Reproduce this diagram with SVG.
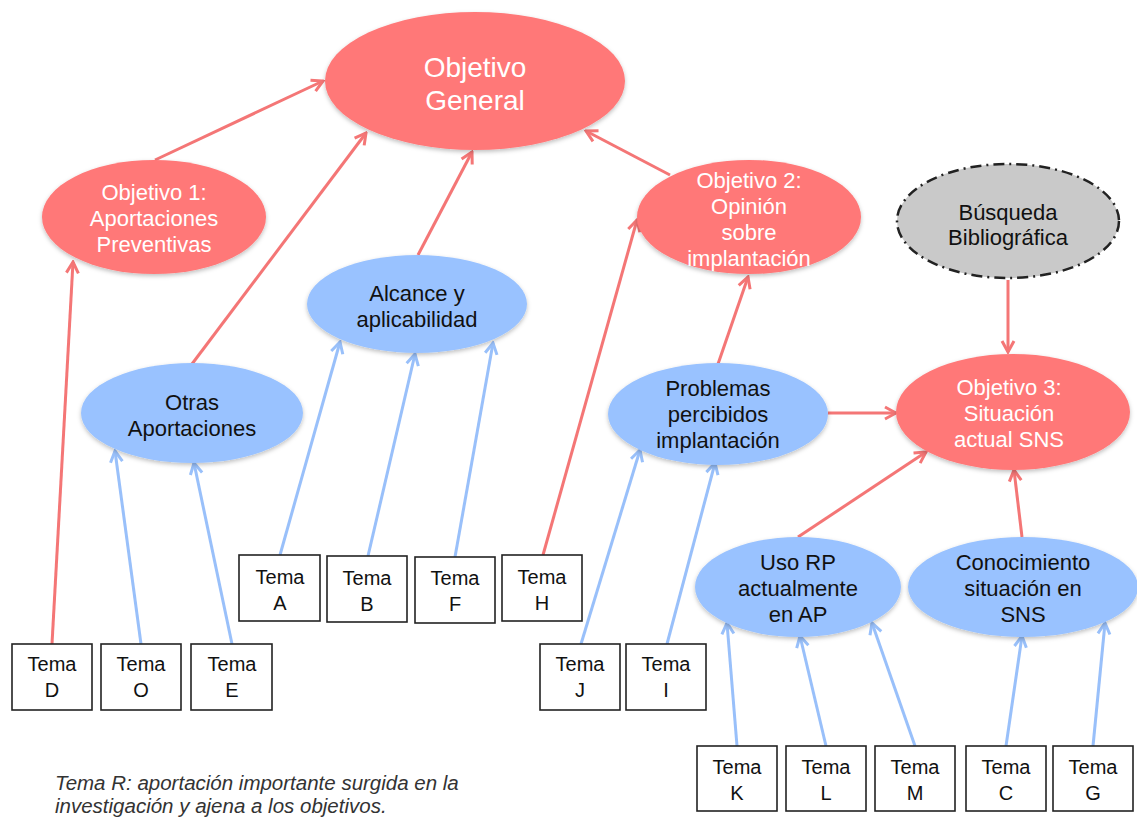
<svg xmlns="http://www.w3.org/2000/svg" width="1137" height="819" viewBox="0 0 1137 819">
<style>
.red{fill:#FF7878}
.blue{fill:#99C2FF}
.gray{fill:#C9C9C9;stroke:#222;stroke-width:2.5;stroke-dasharray:11 5 2 5}
.wt{font-family:"Liberation Sans",Arial,sans-serif;font-size:22px;fill:#fff;text-anchor:middle}
.dt{font-family:"Liberation Sans",Arial,sans-serif;font-size:22px;fill:#111;text-anchor:middle}
.box{fill:#fff;stroke:#222;stroke-width:1.6}
.bt{font-family:"Liberation Sans",Arial,sans-serif;font-size:20px;fill:#111;text-anchor:middle}
.rl{stroke:#F47676;stroke-width:3;fill:none;marker-end:url(#ar)}
.bl{stroke:#99C0FA;stroke-width:3;fill:none;marker-end:url(#ab)}
.note{font-family:"Liberation Sans",Arial,sans-serif;font-size:20.5px;font-style:italic;fill:#333}
</style>
<defs>
<filter id="sh" x="-10%" y="-10%" width="120%" height="130%">
<feDropShadow dx="0" dy="2" stdDeviation="2" flood-color="#000" flood-opacity="0.25"/>
</filter>
<marker id="ar" viewBox="-14 -8 16 16" refX="0" refY="0" markerWidth="16" markerHeight="16" markerUnits="userSpaceOnUse" orient="auto">
<path d="M-11,-6 L0,0 L-11,6" stroke="#F47676" stroke-width="3" fill="none"/>
</marker>
<marker id="ab" viewBox="-14 -8 16 16" refX="0" refY="0" markerWidth="16" markerHeight="16" markerUnits="userSpaceOnUse" orient="auto">
<path d="M-11,-6 L0,0 L-11,6" stroke="#99C0FA" stroke-width="3" fill="none"/>
</marker>
</defs>

<g id="connectors">
<line class="rl" x1="155" y1="160" x2="323" y2="81"/>
<line class="rl" x1="192" y1="364" x2="366" y2="133"/>
<line class="rl" x1="418" y1="255" x2="472" y2="152"/>
<line class="rl" x1="670" y1="175" x2="586" y2="131"/>
<line class="rl" x1="52" y1="644" x2="73" y2="262"/>
<line class="rl" x1="543" y1="555" x2="637" y2="220"/>
<line class="rl" x1="718" y1="364" x2="748" y2="277"/>
<line class="rl" x1="828" y1="413" x2="896" y2="413"/>
<line class="rl" x1="1008" y1="280" x2="1008" y2="352"/>
<line class="rl" x1="798" y1="537" x2="926" y2="452"/>
<line class="rl" x1="1022" y1="537" x2="1014" y2="470"/>
<line class="bl" x1="141" y1="644" x2="115" y2="451"/>
<line class="bl" x1="232" y1="644" x2="194" y2="463"/>
<line class="bl" x1="280" y1="555" x2="340" y2="342"/>
<line class="bl" x1="368" y1="556" x2="415" y2="354"/>
<line class="bl" x1="455" y1="557" x2="493" y2="343"/>
<line class="bl" x1="581" y1="644" x2="640" y2="450"/>
<line class="bl" x1="667" y1="644" x2="715" y2="463"/>
<line class="bl" x1="737" y1="746" x2="727" y2="623"/>
<line class="bl" x1="826" y1="746" x2="800" y2="636"/>
<line class="bl" x1="915" y1="746" x2="872" y2="623"/>
<line class="bl" x1="1006" y1="746" x2="1022" y2="636"/>
<line class="bl" x1="1093" y1="746" x2="1105" y2="623"/>
</g>

<g id="obj-general">
<ellipse class="red" filter="url(#sh)" cx="475" cy="81" rx="150" ry="69"/>
<text class="wt" style="font-size:28px" x="475" y="77">Objetivo</text>
<text class="wt" style="font-size:28px" x="475" y="110">General</text>
</g>
<g id="obj1">
<ellipse class="red" filter="url(#sh)" cx="154" cy="217" rx="112" ry="57"/>
<text class="wt" x="154" y="200">Objetivo 1:</text>
<text class="wt" x="154" y="226">Aportaciones</text>
<text class="wt" x="154" y="252">Preventivas</text>
</g>
<g id="obj2">
<ellipse class="red" filter="url(#sh)" cx="749" cy="217" rx="112" ry="57"/>
<text class="wt" x="749" y="188">Objetivo 2:</text>
<text class="wt" x="749" y="214">Opinión</text>
<text class="wt" x="749" y="240">sobre</text>
<text class="wt" x="749" y="266">implantación</text>
</g>
<g id="busqueda">
<ellipse class="gray" cx="1008" cy="221" rx="111" ry="57"/>
<text class="dt" x="1008" y="220">Búsqueda</text>
<text class="dt" x="1008" y="245">Bibliográfica</text>
</g>
<g id="obj3">
<ellipse class="red" filter="url(#sh)" cx="1013" cy="412" rx="117" ry="58"/>
<text class="wt" x="1009" y="395">Objetivo 3:</text>
<text class="wt" x="1009" y="421">Situación</text>
<text class="wt" x="1009" y="447">actual SNS</text>
</g>
<g id="alcance">
<ellipse class="blue" filter="url(#sh)" cx="417" cy="304" rx="110" ry="49"/>
<text class="dt" x="417" y="301">Alcance y</text>
<text class="dt" x="417" y="327">aplicabilidad</text>
</g>
<g id="otras">
<ellipse class="blue" filter="url(#sh)" cx="192" cy="413" rx="111" ry="50"/>
<text class="dt" x="192" y="410">Otras</text>
<text class="dt" x="192" y="436">Aportaciones</text>
</g>
<g id="problemas">
<ellipse class="blue" filter="url(#sh)" cx="718" cy="414" rx="110" ry="51"/>
<text class="dt" x="718" y="396">Problemas</text>
<text class="dt" x="718" y="422">percibidos</text>
<text class="dt" x="718" y="448">implantación</text>
</g>
<g id="uso-rp">
<ellipse class="blue" filter="url(#sh)" cx="798" cy="587" rx="103" ry="50"/>
<text class="dt" x="798" y="570">Uso RP</text>
<text class="dt" x="798" y="596">actualmente</text>
<text class="dt" x="798" y="622">en AP</text>
</g>
<g id="conocimiento">
<ellipse class="blue" filter="url(#sh)" cx="1023" cy="587" rx="115" ry="50"/>
<text class="dt" x="1023" y="570">Conocimiento</text>
<text class="dt" x="1023" y="596">situación en</text>
<text class="dt" x="1023" y="622">SNS</text>
</g>

<g id="tema-d"><rect class="box" x="12" y="644" width="80" height="66"/><text class="bt" x="52" y="671">Tema</text><text class="bt" x="52" y="697">D</text></g>
<g id="tema-o"><rect class="box" x="101" y="644" width="80" height="66"/><text class="bt" x="141" y="671">Tema</text><text class="bt" x="141" y="697">O</text></g>
<g id="tema-e"><rect class="box" x="191" y="644" width="81" height="66"/><text class="bt" x="232" y="671">Tema</text><text class="bt" x="232" y="697">E</text></g>
<g id="tema-a"><rect class="box" x="239" y="555" width="81" height="66"/><text class="bt" x="280" y="584">Tema</text><text class="bt" x="280" y="610">A</text></g>
<g id="tema-b"><rect class="box" x="327" y="556" width="80" height="66"/><text class="bt" x="367" y="585">Tema</text><text class="bt" x="367" y="611">B</text></g>
<g id="tema-f"><rect class="box" x="415" y="557" width="80" height="66"/><text class="bt" x="455" y="585">Tema</text><text class="bt" x="455" y="611">F</text></g>
<g id="tema-h"><rect class="box" x="502" y="555" width="80" height="66"/><text class="bt" x="542" y="584">Tema</text><text class="bt" x="542" y="610">H</text></g>
<g id="tema-j"><rect class="box" x="540" y="644" width="80" height="66"/><text class="bt" x="580" y="671">Tema</text><text class="bt" x="580" y="697">J</text></g>
<g id="tema-i"><rect class="box" x="626" y="644" width="80" height="66"/><text class="bt" x="666" y="671">Tema</text><text class="bt" x="666" y="697">I</text></g>
<g id="tema-k"><rect class="box" x="697" y="746" width="80" height="65"/><text class="bt" x="737" y="774">Tema</text><text class="bt" x="737" y="800">K</text></g>
<g id="tema-l"><rect class="box" x="786" y="746" width="80" height="65"/><text class="bt" x="826" y="774">Tema</text><text class="bt" x="826" y="800">L</text></g>
<g id="tema-m"><rect class="box" x="875" y="746" width="80" height="65"/><text class="bt" x="915" y="774">Tema</text><text class="bt" x="915" y="800">M</text></g>
<g id="tema-c"><rect class="box" x="966" y="746" width="80" height="65"/><text class="bt" x="1006" y="774">Tema</text><text class="bt" x="1006" y="800">C</text></g>
<g id="tema-g"><rect class="box" x="1053" y="746" width="80" height="65"/><text class="bt" x="1093" y="774">Tema</text><text class="bt" x="1093" y="800">G</text></g>

<g id="note">
<text class="note" x="55" y="790">Tema R: aportación importante surgida en la</text>
<text class="note" x="55" y="813">investigación y ajena a los objetivos.</text>
</g>
</svg>
